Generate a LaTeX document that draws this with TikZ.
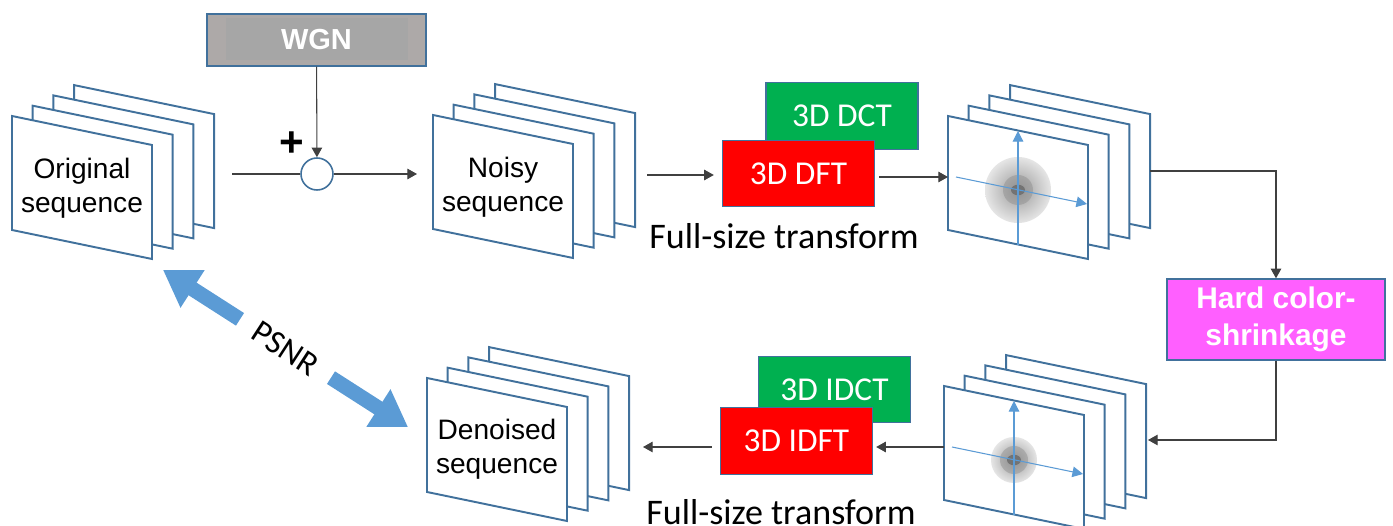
\documentclass[tikz,border=0pt]{standalone}
\usepackage{fontspec}
\setmainfont{Carlito}
\newfontfamily\arialfont{Liberation Sans}
\usetikzlibrary{arrows.meta}
\tikzset{>={Triangle[length=5.5pt,width=6pt]}}
\definecolor{frameblue}{RGB}{65,113,156}
\definecolor{axisblue}{RGB}{91,155,213}
\definecolor{dctgreen}{RGB}{0,176,80}
\definecolor{dftred}{RGB}{255,0,0}
\definecolor{shrinkpink}{RGB}{255,95,255}
\definecolor{wgngray}{RGB}{173,169,168}
\definecolor{wgncore}{RGB}{166,166,166}
\newcommand{\framestack}[2]{%
    \foreach \k in {3,2,1,0}
        \draw[page] (#1+\k*20.7,#2-\k*10.3) -- ++(140,29) -- ++(0,114) -- ++(-140,-29) -- cycle;
}
\newcommand{\spectrum}[5]{%
    \shade[inner color=black!40, outer color=black!10] (#1+70,#2+74) circle[radius=#3];
    \fill[black!45, opacity=0.45] (#1+70,#2+74) circle[radius=#4];
    \fill[black!55] (#1+70,#2+74) ellipse[x radius=#5, y radius=0.75*#5];
    \draw[axis] (#1+70,#2+129) -- (#1+70,#2+15);
    \draw[axis] (#1+8,#2+61) -- (#1+139,#2+88);
}

\begin{document}
\begin{tikzpicture}[x=0.02cm, y=-0.02cm,
    page/.style={draw=frameblue, line width=1.1pt, fill=white},
    axis/.style={-{Triangle[length=6pt,width=6pt]}, axisblue, line width=0.6pt},
    seqtext/.style={font=\arialfont\fontsize{16}{19.3}\selectfont, align=center},
    flow/.style={->, draw=black!75, line width=0.6pt},
    tbox/.style={draw=frameblue, line width=0.8pt, text=white, inner sep=0pt,
        minimum width=3.04cm, minimum height=1.33cm, font=\fontsize{19}{22}\selectfont},
    fulltext/.style={font=\fontsize{20.5}{24}\selectfont},
    psnrarrow/.style={-{Triangle[width=24pt,length=20pt]}, draw=axisblue, fill=axisblue, line width=8.5pt},
    ]
    \useasboundingbox (0,0) rectangle (1393,526);

    \framestack{12}{116}
    \node[seqtext] (original) at (82,188) {Original\\sequence};
    \framestack{433}{115}
    \node[seqtext] (noisy) at (503,187) {Noisy\\sequence};
    \framestack{948}{116}
    \spectrum{948}{116}{33}{15}{7}
    \framestack{944}{386}
    \spectrum{944}{386}{23}{14}{7}
    \framestack{427}{378}
    \node[seqtext] (denoised) at (497,449) {Denoised\\sequence};

    \node[draw=frameblue, line width=0.8pt, fill=wgngray, text=white, inner sep=0pt,
        minimum width=4.38cm, minimum height=1.04cm,
        font=\arialfont\bfseries\fontsize{16.5}{20}\selectfont,
        path picture={\fill[wgncore] ([shift={(0.38cm,-0.08cm)}]path picture bounding box.north west)
            rectangle ([shift={(-0.36cm,0.12cm)}]path picture bounding box.south east);}
        ] (wgn) at (316.5,40) {WGN};
    \node[circle, draw=frameblue, line width=0.9pt, fill=white, inner sep=0pt, minimum size=0.64cm] (sum) at (317,174) {};
    \node[font=\arialfont\bfseries\fontsize{24}{24}\selectfont] (plus) at (292,144) {+};

    \node[tbox, fill=dctgreen] (dct) at (842,116) {3D DCT};
    \node[tbox, fill=dftred] (dft) at (798.5,173.5) {3D DFT};
    \node[fulltext] (fwd) at (784,236) {Full-size transform};
    \node[draw=frameblue, line width=0.8pt, fill=shrinkpink, text=white, align=center, inner sep=0pt,
        minimum width=4.36cm, minimum height=1.62cm,
        font=\arialfont\bfseries\fontsize{17}{21}\selectfont] (shrink) at (1276,319.5) {Hard color-\\shrinkage};
    \node[tbox, fill=dctgreen] (idct) at (834.5,389.5) {3D IDCT};
    \node[tbox, fill=dftred] (idft) at (796.5,441) {3D IDFT};
    \node[fulltext] (inv) at (781,512) {Full-size transform};

    \coordinate (orig-out) at (232,174);
    \coordinate (noisy-in) at (417,174);
    \coordinate (noisy-out) at (647,175);
    \coordinate (spec-in) at (948,177);
    \coordinate (spec-out) at (1150,171);
    \coordinate (specb-in) at (1148,440);
    \coordinate (specb-out) at (944,447);
    \coordinate (denoised-in) at (643,447);

    \draw[draw=black!75, line width=0.6pt] (orig-out) -- (sum);
    \draw[flow] (sum) -- (noisy-in);
    \draw[flow] (wgn) -- (sum);
    \draw[flow, shorten >=0.16cm] (noisy-out) -- (noisy-out -| dft.west);
    \draw[flow, shorten <=0.08cm] (dft.east |- spec-in) -- (spec-in);
    \draw[flow] (spec-out) -| (shrink);
    \draw[flow] (shrink) |- (specb-in);
    \draw[flow, shorten >=0.06cm] (specb-out) -- (specb-out -| idft.east);
    \draw[flow, shorten <=0.16cm] (idft.west |- denoised-in) -- (denoised-in);

    \node[font=\fontsize{19}{19}\selectfont, inner xsep=10pt, inner ysep=2pt, rotate=-33] (psnr) at (285.5,348.5) {PSNR};
    \coordinate (psnr-up) at (163,270);
    \coordinate (psnr-down) at (408,427);
    \draw[psnrarrow] (psnr) -- (psnr-up);
    \draw[psnrarrow] (psnr) -- (psnr-down);
\end{tikzpicture}
\end{document}
